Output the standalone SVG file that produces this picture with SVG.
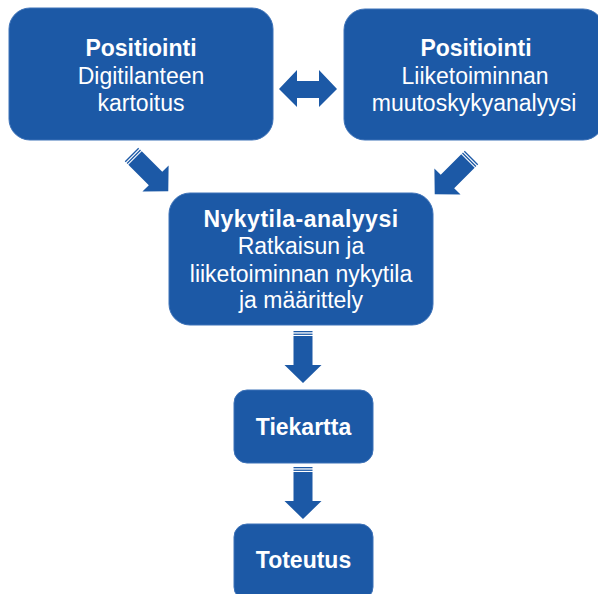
<svg xmlns="http://www.w3.org/2000/svg" width="598" height="594" viewBox="0 0 598 594">
<style>
.box{fill:#1c59a6;stroke:#3d72b8;stroke-width:1}
.arr{fill:#1c59a6}
text{font-family:"Liberation Sans",Arial,sans-serif;font-size:23px;fill:#ffffff;text-anchor:middle}
.b{font-weight:bold}
</style>
<defs>
<g id="sarrow">
<rect x="0" y="-9.5" width="1.3" height="19" class="arr"/>
<rect x="2.6" y="-9.5" width="1.3" height="19" class="arr"/>
<polygon class="arr" points="5,-9.5 34,-9.5 34,-18.5 52,0 34,18.5 34,9.5 5,9.5"/>
</g>
</defs>
<rect width="598" height="594" fill="#ffffff"/>
<g id="connectors">
<polygon class="arr" points="279,89 297,70 297,81 319,81 319,70 337,89 319,107 319,98 297,98 297,107"/>
<use href="#sarrow" transform="translate(131.5,154.5) rotate(45)"/>
<use href="#sarrow" transform="translate(471.5,157.5) rotate(135)"/>
<use href="#sarrow" transform="translate(303,331) rotate(90)"/>
<use href="#sarrow" transform="translate(303,467) rotate(90)"/>
</g>
<g id="node-positiointi-digi">
<rect class="box" x="9" y="8" width="264" height="132" rx="21"/>
<text class="b" x="141" y="56">Positiointi</text>
<text x="141" y="83.5">Digitilanteen</text>
<text x="141" y="110.5">kartoitus</text>
</g>
<g id="node-positiointi-liike">
<rect class="box" x="344" y="9" width="260" height="131" rx="21"/>
<text class="b" x="476" y="56">Positiointi</text>
<text x="475" y="83.5">Liiketoiminnan</text>
<text x="474" y="111">muutoskykyanalyysi</text>
</g>
<g id="node-nykytila">
<rect class="box" x="169" y="193" width="264" height="132" rx="21"/>
<text class="b" x="301" y="227" letter-spacing="0.5">Nykytila-analyysi</text>
<text x="301" y="254">Ratkaisun ja</text>
<text x="301" y="281.5">liiketoiminnan nykytila</text>
<text x="301" y="308">ja määrittely</text>
</g>
<g id="node-tiekartta">
<rect class="box" x="234" y="390" width="139" height="73" rx="13"/>
<text class="b" x="303.5" y="435">Tiekartta</text>
</g>
<g id="node-toteutus">
<rect class="box" x="234" y="524" width="139" height="76" rx="13"/>
<text class="b" x="303.5" y="568">Toteutus</text>
</g>
</svg>
